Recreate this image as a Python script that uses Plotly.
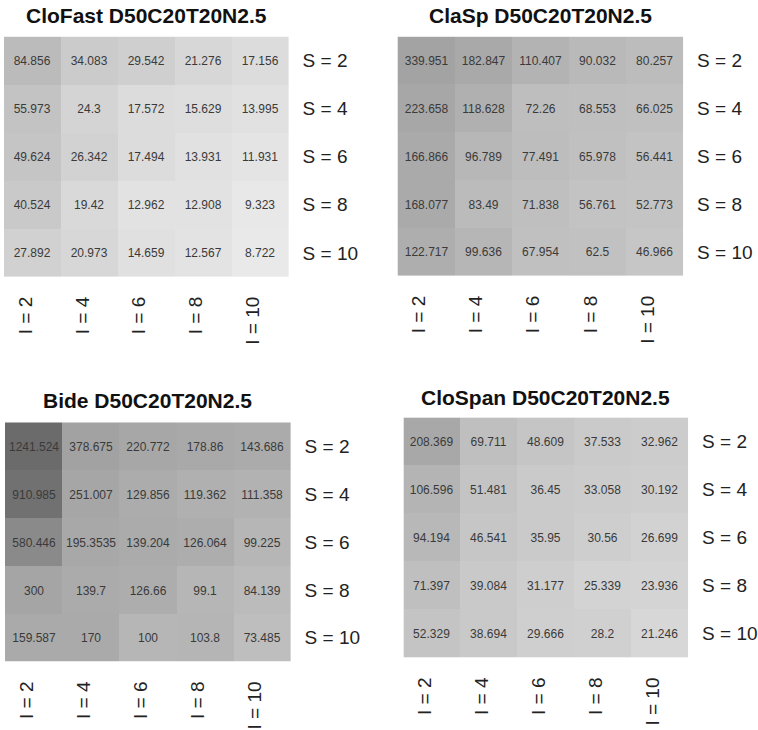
import plotly.graph_objects as go

# ---- data ----
i_labels = ["I = 2", "I = 4", "I = 6", "I = 8", "I = 10"]
s_labels = ["S = 2", "S = 4", "S = 6", "S = 8", "S = 10"]

titles = ["CloFast D50C20T20N2.5", "ClaSp D50C20T20N2.5",
          "Bide D50C20T20N2.5", "CloSpan D50C20T20N2.5"]

clofast = [
    [84.856, 34.083, 29.542, 21.276, 17.156],
    [55.973, 24.3, 17.572, 15.629, 13.995],
    [49.624, 26.342, 17.494, 13.931, 11.931],
    [40.524, 19.42, 12.962, 12.908, 9.323],
    [27.892, 20.973, 14.659, 12.567, 8.722],
]
clasp = [
    [339.951, 182.847, 110.407, 90.032, 80.257],
    [223.658, 118.628, 72.26, 68.553, 66.025],
    [166.866, 96.789, 77.491, 65.978, 56.441],
    [168.077, 83.49, 71.838, 56.761, 52.773],
    [122.717, 99.636, 67.954, 62.5, 46.966],
]
bide = [
    [1241.524, 378.675, 220.772, 178.86, 143.686],
    [910.985, 251.007, 129.856, 119.362, 111.358],
    [580.446, 195.3535, 139.204, 126.064, 99.225],
    [300, 139.7, 126.66, 99.1, 84.139],
    [159.587, 170, 100, 103.8, 73.485],
]
clospan = [
    [208.369, 69.711, 48.609, 37.533, 32.962],
    [106.596, 51.481, 36.45, 33.058, 30.192],
    [94.194, 46.541, 35.95, 30.56, 26.699],
    [71.397, 39.084, 31.177, 25.339, 23.936],
    [52.329, 38.694, 29.666, 28.2, 21.246],
]
panels = [clofast, clasp, bide, clospan]

# ---- gray colour mapping (value -> gray level), shared by all panels ----
zmin = min(min(r) for p in panels for r in p)
zmax = max(max(r) for p in panels for r in p)
gray_stops = [(zmin, 233), (15, 223), (22, 214), (34, 203), (55, 195), (85, 187),
              (130, 172), (200, 168), (380, 162), (580, 138), (910, 113), (zmax, 107)]
colorscale = []
for v, g in gray_stops:
    f = (v - zmin) / (zmax - zmin)
    colorscale.append([max(0.0, min(1.0, f)), f"rgb({g},{g},{g})"])


def fmt(v):
    s = f"{v:.4f}".rstrip("0").rstrip(".")
    return s


# ---- layout geometry (paper fractions) ----
W, H = 758, 730
boxes = [  # left, right, top, bottom in px
    (4, 289, 37, 280),
    (398, 684, 37, 279),
    (5, 291, 427, 669),
    (404, 689, 422, 665),
]
title_gap = [21, 21, 22, 20]

FONT = "Liberation Sans, Arial, Helvetica, sans-serif"
fig = go.Figure()
annotations = []
for k, (z, box) in enumerate(zip(panels, boxes)):
    n = "" if k == 0 else str(k + 1)
    fig.add_trace(go.Heatmap(
        z=z, x=i_labels, y=s_labels,
        text=[[fmt(v) for v in row] for row in z],
        texttemplate="%{text}",
        textfont=dict(family=FONT, size=12, color="#3a3a3a"),
        colorscale=colorscale, zmin=zmin, zmax=zmax,
        showscale=False, hoverinfo="skip",
        xaxis="x" + n, yaxis="y" + n,
    ))
    l, r, t, b = box
    fig.layout["xaxis" + n] = dict(
        domain=[l / W, r / W], anchor="y" + n, side="bottom",
        tickangle=-90, ticks="", showgrid=False, zeroline=False,
        showline=False, ticklabelstandoff=15, ticklabelshift=-7,
        tickfont=dict(family=FONT, size=19, color="#222222"),
        fixedrange=True,
    )
    fig.layout["yaxis" + n] = dict(
        domain=[1 - b / H, 1 - t / H], anchor="x" + n, side="right",
        autorange="reversed", ticks="", showgrid=False, zeroline=False,
        showline=False, ticklabelstandoff=13,
        tickfont=dict(family=FONT, size=19, color="#222222"),
        fixedrange=True,
    )
    annotations.append(dict(
        text=f"<b>{titles[k]}</b>", showarrow=False,
        xref=f"x{n} domain", yref=f"y{n} domain", x=0.5, y=1,
        xanchor="center", yanchor="middle", yshift=title_gap[k],
        font=dict(family=FONT, size=21, color="#111111"),
    ))

fig.update_layout(
    width=W, height=H, margin=dict(l=0, r=0, t=0, b=0),
    paper_bgcolor="white", plot_bgcolor="white",
    annotations=annotations, showlegend=False,
)

fig.write_html("out.html")
